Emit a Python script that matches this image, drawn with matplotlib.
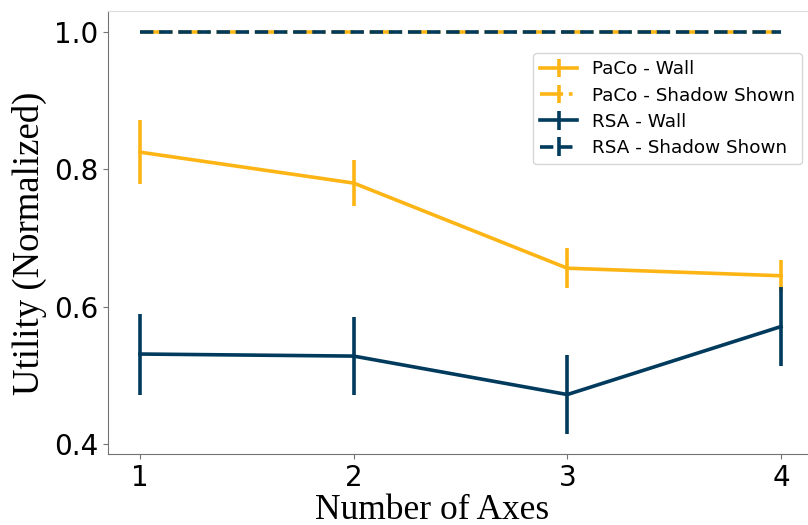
import matplotlib
matplotlib.use("Agg")
import matplotlib.pyplot as plt

# data
num_axes = [1, 2, 3, 4]
paco_wall = [0.825, 0.780, 0.656, 0.645]
paco_wall_err = [0.047, 0.033, 0.029, 0.023]
paco_shadow = [1.0, 1.0, 1.0, 1.0]
paco_shadow_err = [0.0, 0.0, 0.0, 0.0]
rsa_wall = [0.531, 0.528, 0.472, 0.571]
rsa_wall_err = [0.059, 0.057, 0.057, 0.057]
rsa_shadow = [1.0, 1.0, 1.0, 1.0]
rsa_shadow_err = [0.0, 0.0, 0.0, 0.0]

GOLD = "#FDB515"
NAVY = "#003A5D"
LW = 2.6

fig = plt.figure(figsize=(8.08, 5.25), dpi=100)
ax = fig.add_axes([108 / 808, 71 / 525, 705 / 808, 443 / 525])

ax.errorbar(num_axes, paco_wall, yerr=paco_wall_err, color=GOLD, lw=LW,
            elinewidth=LW, linestyle="-", label="PaCo - Wall")
ax.errorbar(num_axes, paco_shadow, yerr=paco_shadow_err, color=GOLD, lw=LW,
            elinewidth=LW, linestyle="-.", label="PaCo - Shadow Shown")
ax.errorbar(num_axes, rsa_wall, yerr=rsa_wall_err, color=NAVY, lw=LW,
            elinewidth=LW, linestyle="-", label="RSA - Wall")
ax.errorbar(num_axes, rsa_shadow, yerr=rsa_shadow_err, color=NAVY, lw=LW,
            elinewidth=LW, linestyle="--", label="RSA - Shadow Shown")

ax.set_xlim(0.85, 4.15)
ax.set_ylim(0.3854, 1.0306)
ax.set_xticks(num_axes)
ax.set_yticks([0.4, 0.6, 0.8, 1.0])
ax.tick_params(labelsize=20, color="0.45")

for side in ("left", "bottom"):
    ax.spines[side].set_color("0.45")
ax.spines["top"].set_color("#dddddd")
ax.spines["right"].set_visible(False)

ax.set_xlabel("Number of Axes", fontsize=25.5, family="Liberation Serif",
              labelpad=1.5)
ax.set_ylabel("Utility (Normalized)", fontsize=26.5, family="Liberation Serif",
              labelpad=5)
ax.xaxis.label.set_x(0.46)
ax.yaxis.label.set_y(0.475)

ax.legend(loc="upper right", bbox_to_anchor=(802 / 808, 1 - 53 / 525),
          bbox_transform=fig.transFigure, borderaxespad=0, fontsize=13.2,
          handlelength=2.0, labelspacing=0.45)

fig.savefig("out.png", dpi=100)
